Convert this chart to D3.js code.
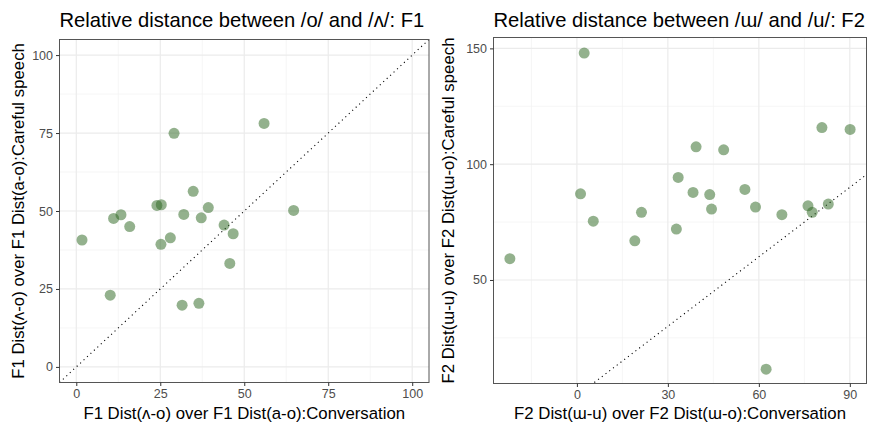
<!DOCTYPE html>
<html><head><meta charset="utf-8">
<script src="https://cdn.jsdelivr.net/npm/d3@7"></script>
<style>body{margin:0;background:#fff;} text{font-family:"Liberation Sans",Arial,sans-serif;}</style>
</head><body>
<svg id="chart" width="875" height="428"></svg>
<script>
// Left panel: F1 relative distance
const f1Conversation = [29.1, 55.9, 34.8, 64.7, 24.0, 25.3, 39.3, 32.0, 37.2, 11.1, 13.3, 15.9, 44.0, 46.7, 1.7, 25.2, 28.0, 45.7, 10.1, 31.5, 36.5];
const f1Careful      = [74.9, 78.1, 56.3, 50.2, 51.8, 52.0, 51.1, 48.9, 47.8, 47.6, 48.8, 45.0, 45.5, 42.7, 40.7, 39.3, 41.4, 33.2, 23.0, 19.8, 20.4];
// Right panel: F2 relative distance
const f2Conversation = [2.4, 1.2, 5.4, 21.3, 32.8, 33.4, 38.3, 39.3, 43.8, 44.4, 48.4, 55.4, 58.9, 67.6, 76.2, 77.6, 82.9, 80.8, 90.1, -22.1, 19.1, 62.4];
const f2Careful      = [148.0, 87.2, 75.4, 79.2, 72.0, 94.3, 87.8, 107.5, 86.9, 80.6, 106.2, 89.1, 81.5, 78.2, 82.0, 79.2, 82.8, 115.8, 115.0, 59.2, 66.9, 11.5];

const f1XTicks = [0, 25, 50, 75, 100], f1XMinor = [12.5, 37.5, 62.5, 87.5];
const f1YTicks = [0, 25, 50, 75, 100], f1YMinor = [12.5, 37.5, 62.5, 87.5];
const f2XTicks = [0, 30, 60, 90], f2XMinor = [-15, 15, 45, 75];
const f2YTicks = [50, 100, 150], f2YMinor = [25, 75, 125];

const titles = ["Relative distance between /o/ and /\u028C/: F1", "Relative distance between /\u026F/ and /u/: F2"];
const xTitles = ["F1 Dist(\u028C-o) over F1 Dist(a-o):Conversation", "F2 Dist(\u026F-u) over F2 Dist(\u026F-o):Conversation"];
const yTitles = ["F1 Dist(\u028C-o) over F1 Dist(a-o):Careful speech", "F2 Dist(\u026F-u) over F2 Dist(\u026F-o):Careful speech"];

const svg = d3.select("#chart");

function panel(cfg) {
  const {x0, x1, y0, y1, xd, yd, xs, ys, xt, xm, yt, ym, title, xTitle, yTitle, yTitleX} = cfg;
  const x = d3.scaleLinear().domain(xd).range([x0, x1]);
  const y = d3.scaleLinear().domain(yd).range([y1, y0]);
  const g = svg.append("g");
  g.append("rect").attr("x", x0).attr("y", y0).attr("width", x1 - x0).attr("height", y1 - y0).attr("fill", "#fff");
  g.selectAll(".vmin").data(xm).join("line").attr("x1", d => x(d)).attr("x2", d => x(d)).attr("y1", y0).attr("y2", y1)
    .attr("stroke", "#f2f2f2").attr("stroke-width", 0.7);
  g.selectAll(".hmin").data(ym).join("line").attr("y1", d => y(d)).attr("y2", d => y(d)).attr("x1", x0).attr("x2", x1)
    .attr("stroke", "#f2f2f2").attr("stroke-width", 0.7);
  g.selectAll(".vmaj").data(xt).join("line").attr("x1", d => x(d)).attr("x2", d => x(d)).attr("y1", y0).attr("y2", y1)
    .attr("stroke", "#ebebeb").attr("stroke-width", 1.2);
  g.selectAll(".hmaj").data(yt).join("line").attr("y1", d => y(d)).attr("y2", d => y(d)).attr("x1", x0).attr("x2", x1)
    .attr("stroke", "#ebebeb").attr("stroke-width", 1.2);
  const cid = "clip" + Math.round(x0);
  svg.append("clipPath").attr("id", cid).append("rect").attr("x", x0).attr("y", y0).attr("width", x1 - x0).attr("height", y1 - y0);
  const lo = Math.min(xd[0], yd[0]), hi = Math.max(xd[1], yd[1]);
  g.append("line").attr("clip-path", `url(#${cid})`)
    .attr("x1", x(lo)).attr("y1", y(lo)).attr("x2", x(hi)).attr("y2", y(hi))
    .attr("stroke", "#000").attr("stroke-width", 1.1).attr("stroke-dasharray", "1.1,3.6");
  g.selectAll("circle").data(xs.map((v, i) => [v, ys[i]])).join("circle")
    .attr("cx", d => x(d[0])).attr("cy", d => y(d[1])).attr("r", 5.5)
    .attr("fill", "#2f6a25").attr("fill-opacity", 0.52);
  g.append("rect").attr("x", x0).attr("y", y0).attr("width", x1 - x0).attr("height", y1 - y0)
    .attr("fill", "none").attr("stroke", "#555").attr("stroke-width", 1);
  const xa = g.append("g").attr("transform", `translate(0,${y1})`)
    .call(d3.axisBottom(x).tickValues(xt).tickSize(3.5).tickPadding(3).tickFormat(d3.format("d")));
  const ya = g.append("g").attr("transform", `translate(${x0},0)`)
    .call(d3.axisLeft(y).tickValues(yt).tickSize(3.5).tickPadding(3).tickFormat(d3.format("d")));
  [xa, ya].forEach(a => {
    a.select(".domain").remove();
    a.selectAll(".tick line").attr("stroke", "#333").attr("stroke-width", 1);
    a.selectAll(".tick text").attr("fill", "#4d4d4d").style("font-size", "12.5px").style("font-family", "Liberation Sans, Arial, sans-serif");
  });
  g.append("text").attr("x", x0).attr("y", 27).text(title).attr("fill", "#000").style("font-size", "20.2px");
  g.append("text").attr("x", (x0 + x1) / 2).attr("y", 419).attr("text-anchor", "middle").text(xTitle)
    .attr("fill", "#000").style("font-size", "16.8px");
  g.append("text").attr("transform", `translate(${yTitleX},${(y0 + y1) / 2}) rotate(-90)`).attr("text-anchor", "middle")
    .text(yTitle).attr("fill", "#000").style("font-size", "16.8px");
}

panel({x0: 59.5, x1: 429, y0: 39.5, y1: 382.5, xd: [-5, 105], yd: [-5, 105],
  xs: f1Conversation, ys: f1Careful, xt: f1XTicks, xm: f1XMinor, yt: f1YTicks, ym: f1YMinor,
  title: titles[0], xTitle: xTitles[0], yTitle: yTitles[0], yTitleX: 23.5});
panel({x0: 493.5, x1: 866.5, y0: 37.5, y1: 383.5, xd: [-27.5, 95.5], yd: [5.3, 154.7],
  xs: f2Conversation, ys: f2Careful, xt: f2XTicks, xm: f2XMinor, yt: f2YTicks, ym: f2YMinor,
  title: titles[1], xTitle: xTitles[1], yTitle: yTitles[1], yTitleX: 453.5});
</script>
</body></html>
